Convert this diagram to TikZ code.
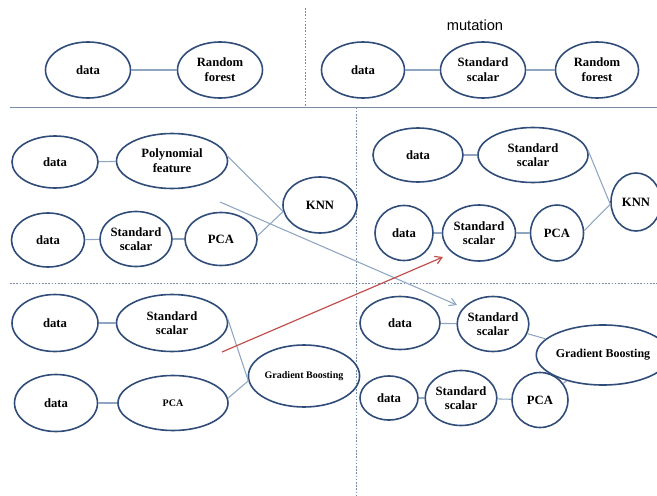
\documentclass[tikz,border=0pt]{standalone}
\usepackage{fontspec}
\setmainfont{Liberation Serif}
\newfontfamily\mutfont{Liberation Sans}
\usetikzlibrary{shapes.geometric,arrows.meta}

\definecolor{elline}{RGB}{48,76,120}
\definecolor{conline}{RGB}{142,166,194}
\definecolor{sepline}{RGB}{120,140,165}
\definecolor{redarrow}{RGB}{192,80,77}

\tikzset{
  el/.style 2 args={ellipse, draw=elline, line width=1.2pt, inner sep=0pt,
    minimum width=#1*0.75pt, minimum height=#2*0.75pt, align=center,
    font=\fontsize{9.5}{11}\selectfont\bfseries},
  small/.style={font=\fontsize{7.5}{9}\selectfont\bfseries},
  con/.style={draw=conline, line width=0.8pt},
  sep/.style={draw=sepline, line width=0.6pt},
  sepdash/.style={sep, dash pattern=on 1.2pt off 1.2pt},
}

\begin{document}
\begin{tikzpicture}[x=0.75pt,y=0.75pt,yscale=-1,xscale=1]
\useasboundingbox (0,0) rectangle (657,496);

% separators
\draw [sepdash] (305,8) -- (305,107);
\draw [sep] (10,107.5) -- (657,107.5);
\draw [sepdash] (356,107.5) -- (356,496);
\draw [sepdash] (10,283) -- (657,283);

% top left
\node [el={85}{56}] (dT) at (88,70) {data};
\node [el={85}{56}] (rfT) at (220,70) {Random\\forest};
\draw [con] (dT) -- (rfT);

% top right
\node [font=\mutfont\fontsize{11}{12}\selectfont] (mut) at (475,25) {mutation};
\node [el={83}{56}] (dM) at (363,70) {data};
\node [el={85}{56}] (ssM) at (483,70) {Standard\\scalar};
\node [el={83}{56}] (rfM) at (597,70) {Random\\forest};
\draw [con] (dM) -- (ssM);
\draw [con] (ssM) -- (rfM);

% middle left
\node [el={86}{52}] (dA) at (55,162) {data};
\node [el={111}{55}] (polyA) at (172,161) {Polynomial\\feature};
\node [el={74}{56}] (knnA) at (320,205) {KNN};
\node [el={73}{54}] (dB) at (48,240) {data};
\node [el={72}{55}] (ssB) at (136,239) {Standard\\scalar};
\node [el={72}{53}] (pcaB) at (221,239) {PCA};
\draw [con] (dA) -- (polyA);
\draw [con] (dB) -- (ssB);
\draw [con] (ssB) -- (pcaB);
\draw [con] (polyA.5) -- (knnA.190);
\draw [con] (pcaB.5) -- (knnA.190);

% middle right
\node [el={90}{54}] (dC) at (418,155) {data};
\node [el={110}{55}] (ssC) at (533,155) {Standard\\scalar};
\node [el={50}{58}] (knnC) at (636,202) {KNN};
\node [el={58}{55}] (dD) at (404,233) {data};
\node [el={73}{56}] (ssD) at (479,233) {Standard\\scalar};
\node [el={53}{56}] (pcaD) at (557,233) {PCA};
\draw [con] (dC) -- (ssC);
\draw [con] (dD) -- (ssD);
\draw [con] (ssD) -- (pcaD);
\draw [con] (ssC.5) -- (knnC.185);
\draw [con] (pcaD.5) -- (knnC.185);

% bottom left
\node [el={86}{57}] (dE) at (55,323) {data};
\node [el={111}{57}] (ssE) at (172,323) {Standard\\scalar};
\node [el={108}{62}, small] (gbE) at (304,376) {Gradient Boosting};
\node [el={83}{57}] (dF) at (56,403) {data};
\node [el={110}{55}, small] (pcaF) at (173,403) {PCA};
\draw [con] (dE) -- (ssE);
\draw [con] (dF) -- (pcaF);
\draw [con] (ssE.5) -- (gbE.185);
\draw [con] (pcaF.5) -- (gbE.185);

% bottom right
\node [el={110}{60}, font=\fontsize{9}{11}\selectfont\bfseries] (gbG) at (603,355) {Gradient Boosting};
\node [el={80}{53}] (dG) at (400,323) {data};
\node [el={60}{55}] (ssG) at (493,324) {Standard\\scalar};
\node [el={58}{44}] (dH) at (389,398) {data};
\node [el={65}{55}] (ssH) at (461,398) {Standard\\scalar};
\node [el={56}{55}] (pcaH) at (540,400) {PCA};
\draw [con] (dG) -- (ssG);
\draw [con] (dH) -- (ssH);
\draw [con] (ssH) -- (pcaH);
\draw [con] (ssG) -- (gbG);
\draw [con] (pcaH) -- (gbG);

% moves between panels
\coordinate (polyTail) at (220,202);
\coordinate (polyHead) at (457,305);
\coordinate (pcaTail) at (222,352);
\coordinate (pcaHead) at (443,257);
\draw [con, -{Straight Barb[length=5pt,width=6pt]}] (polyTail) -- (polyHead);
\draw [draw=redarrow, line width=0.9pt, -{Straight Barb[length=5pt,width=6pt]}] (pcaTail) -- (pcaHead);

\end{tikzpicture}
\end{document}
